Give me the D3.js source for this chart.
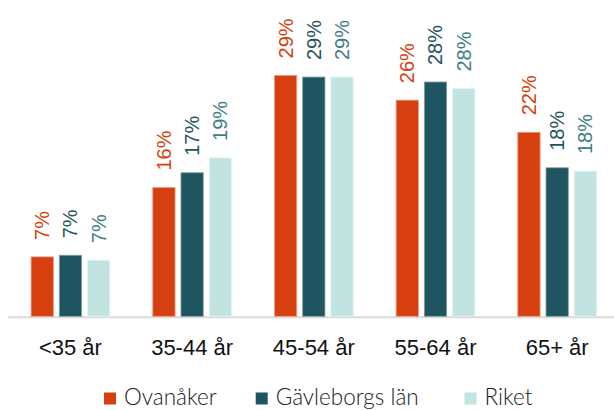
<!DOCTYPE html>
<html>
<head>
<meta charset="utf-8">
<script src="https://cdn.jsdelivr.net/npm/d3@7"></script>
<style>
  body { margin: 0; background: #fff; }
  svg { display: block; }
</style>
</head>
<body>
<div id="chart"></div>
<script>
var categories = ["<35 år", "35-44 år", "45-54 år", "55-64 år", "65+ år"];
var seriesNames = ["Ovanåker", "Gävleborgs län", "Riket"];
var ovanaker = [7.2, 15.6, 29.2, 26.2, 22.3];
var gavleborg = [7.4, 17.4, 29.0, 28.4, 18.0];
var riket = [6.8, 19.2, 29.0, 27.6, 17.6];

var barColors = ["#d63f0f", "#1f5560", "#c1e4e0"];
var labelColors = ["#d63f0f", "#1f5560", "#3f8087"];
var edgeColors = ["#ee9a80", "#7fa0a6", "#e2f3f1"];

var width = 614;
var height = 410;
var baseY = 316.3;
var groupW = 78.7;

var svg = d3.select("#chart").
  append("svg").
  attr("width", width).
  attr("height", height);

var x0 = d3.scaleBand().domain(categories).range([9.6, 618]).paddingInner(0).paddingOuter(0);
var x1 = d3.scaleBand().domain(seriesNames).range([0, groupW]).paddingInner(0.21);
var groupOffset = (x0.bandwidth() - groupW) / 2;

var y = d3.scaleLinear().domain([0, 30]).range([baseY, baseY - 247.5]);

var table = categories.map(function (c, i) {
  return {cat: c, vals: [ovanaker[i], gavleborg[i], riket[i]]};
});

// baseline
svg.append("line").
  attr("x1", 8).
  attr("x2", 614).
  attr("y1", baseY + 1).
  attr("y2", baseY + 1).
  attr("stroke", "#d9d9d9").
  attr("stroke-width", 2);

var groups = svg.selectAll(".grp").
  data(table).
  enter().
  append("g").
  attr("class", "grp").
  attr("transform", function (d) { return "translate(" + (x0(d.cat) + groupOffset) + ",0)"; });

groups.selectAll("rect").
  data(function (d) { return d.vals.map(function (v, j) { return {v: v, j: j}; }); }).
  enter().
  append("rect").
  attr("x", function (d) { return x1(seriesNames[d.j]); }).
  attr("y", function (d) { return y(d.v); }).
  attr("width", x1.bandwidth()).
  attr("height", function (d) { return baseY - y(d.v); }).
  attr("fill", function (d) { return barColors[d.j]; }).
  attr("stroke", function (d) { return edgeColors[d.j]; }).
  attr("stroke-width", 0.8);

groups.selectAll("text").
  data(function (d) { return d.vals.map(function (v, j) { return {v: v, j: j}; }); }).
  enter().
  append("text").
  attr("transform", function (d) {
    var cx = x1(seriesNames[d.j]) + x1.bandwidth() / 2;
    return "translate(" + cx + "," + (y(d.v) - 17) + ") rotate(-90)";
  }).
  attr("dy", "0.35em").
  attr("font-family", "'Liberation Sans', Arial, sans-serif").
  attr("font-size", 20).
  attr("fill", function (d) { return labelColors[d.j]; }).
  text(function (d) { return Math.round(d.v) + "%"; });

// category labels
var xAxis = d3.axisBottom(x0).tickSize(0).tickPadding(0);
var ax = svg.append("g").
  attr("transform", "translate(0," + (baseY + 38.5) + ")").
  call(xAxis);
ax.select(".domain").remove();
ax.selectAll("text").
  attr("dy", 0).
  attr("font-family", "'Liberation Sans', Arial, sans-serif").
  attr("font-size", 22).
  attr("fill", "#111");

// legend
var legendX = [104, 255.7, 464.5];
var legend = svg.selectAll(".leg").
  data(seriesNames).
  enter().
  append("g").
  attr("class", "leg").
  attr("transform", function (d, i) { return "translate(" + legendX[i] + ",392.5)"; });

legend.append("rect").
  attr("width", 12).
  attr("height", 12).
  attr("fill", function (d, i) { return barColors[i]; });

legend.append("text").
  attr("x", 20).
  attr("y", 12.5).
  attr("font-family", "Lato, sans-serif").
  attr("font-weight", 300).
  attr("font-size", 22.5).
  attr("fill", "#222").
  text(function (d) { return d; });
</script>
</body>
</html>
